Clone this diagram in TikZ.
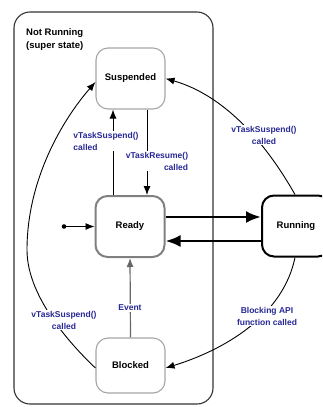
\documentclass[tikz,border=0pt]{standalone}
\usepackage{fontspec}
\setmainfont{Liberation Sans}
\usetikzlibrary{arrows.meta}
\definecolor{lblblue}{RGB}{40,40,150}
\begin{document}
\begin{tikzpicture}[x=1pt,y=-1pt,
  statebox/.style={rounded corners=12pt, minimum width=69pt, minimum height=61pt, inner sep=0pt,
    font=\bfseries\fontsize{9.5}{11}\selectfont, fill=white},
  lbl/.style={text=lblblue, font=\bfseries\fontsize{8.5}{12}\selectfont, fill=white, inner sep=1pt},
  thinarrow/.style={line width=0.9pt, -{Latex[length=9pt,width=7pt]}},
  thickarrow/.style={line width=2.6pt, -{Latex[length=15pt,width=12pt]}}]
\useasboundingbox (0,0) rectangle (322,407);
\clip (0,0) rectangle (322,407);

% super state
\node[draw=black!80, line width=1.1pt, rounded corners=16pt, minimum width=199pt, minimum height=392pt, inner sep=0pt] (super) at (113.5,208) {};
\node[anchor=north west, align=left, inner sep=0pt, font=\bfseries\fontsize{9.5}{13}\selectfont] (title) at (26,28) {Not Running\\(super state)};

% states
\node[statebox, draw=black!35, line width=1.1pt] (susp) at (130.5,78.5) {Suspended};
\node[statebox, draw=black!50, line width=2pt] (ready) at (130,226.5) {Ready};
\node[statebox, draw=black, line width=2pt, minimum width=68pt] (run) at (296,226) {Running};
\node[statebox, draw=black!35, line width=1.1pt, minimum height=55pt] (blk) at (130.5,365.5) {Blocked};

% helper coordinates
\coordinate (init) at (64,226.5);
\coordinate (xa) at (113,0);
\coordinate (xb) at (147,0);
\coordinate (lw) at (27,250);

% initial
\fill (init) circle (2.3pt);
\draw[thinarrow] (init) -- (ready.west);

% ready <-> running
\draw[thickarrow] ([yshift=9.5pt]ready.east) -- ([yshift=9.5pt]ready.east -| run.west);
\draw[thickarrow] ([yshift=-14.5pt]ready.east -| run.west) -- ([yshift=-14.5pt]ready.east);

% ready -> suspended
\draw[thinarrow] (ready.north -| xa) -- (susp.south -| xa);
% suspended -> ready
\draw[thinarrow] (susp.south -| xb) -- (ready.north -| xb);

% running -> suspended
\draw[thinarrow] ([xshift=-1pt]run.north) .. controls (265.6,142.8) and (225,95.6) .. (susp.east);
% running -> blocked
\draw[thinarrow] ([xshift=-1pt]run.south) .. controls (283,316) and (224,350) .. ([yshift=-2.5pt]blk.east);
% blocked -> suspended
\draw[thinarrow] ([yshift=-2.5pt]blk.west) .. controls (77.5,351) and (27,300) .. (lw)
  .. controls (27,180) and (62,120.5) .. ([yshift=-3.5pt]susp.west);
% blocked -> ready
\draw[thinarrow, draw=black!60, line width=1.2pt] (blk.north) -- (ready.south);

% labels
\node[lbl, align=left] (l1) at (106,141) {vTaskSuspend()\\called};
\node[lbl, align=right] (l2) at (157,161) {vTaskResume()\\called};
\node[lbl, align=center] (l3) at (264,135) {vTaskSuspend()\\called};
\node[lbl, align=center] (l4) at (267,316) {Blocking API\\function called};
\node[lbl, align=center] (l5) at (64,320) {vTaskSuspend()\\called};
\node[lbl] (l6) at (130,308) {Event};
\end{tikzpicture}
\end{document}
